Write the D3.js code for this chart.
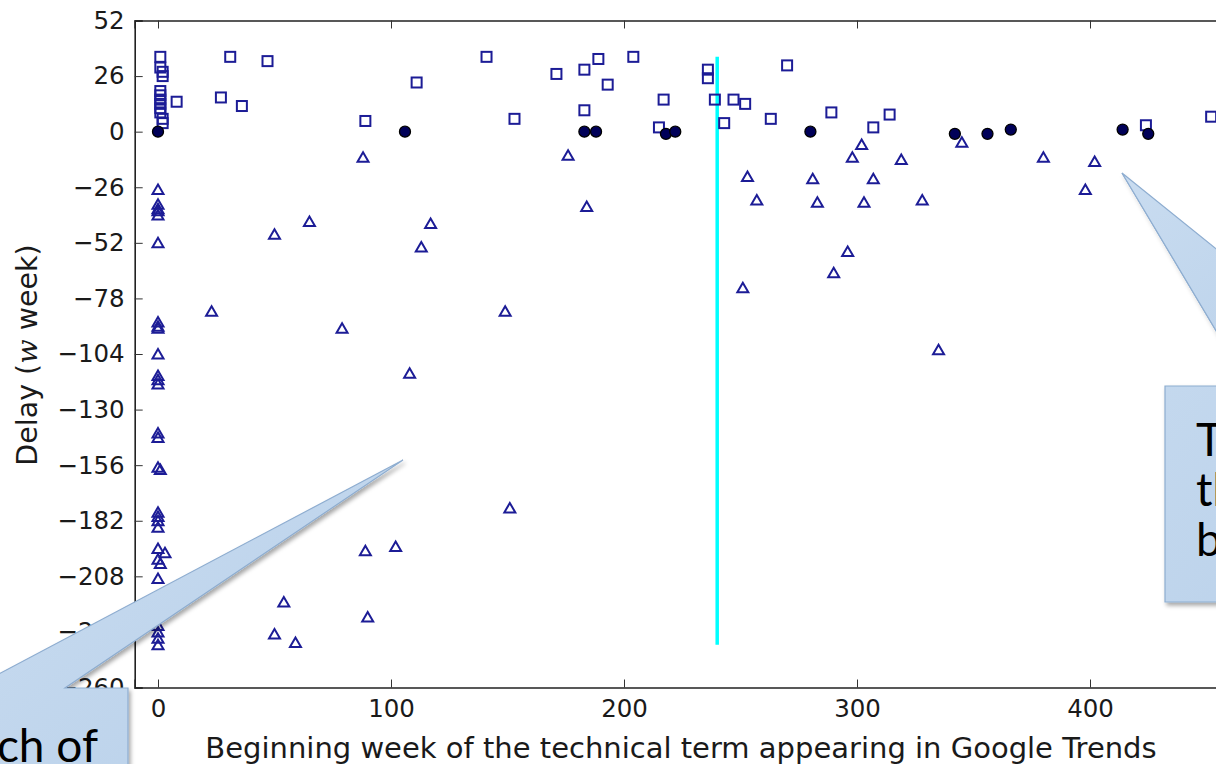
<!DOCTYPE html>
<html>
<meta charset="utf-8">
<head>
<title>Delay vs beginning week</title>
<style>
body { margin: 0; background: #fff; }
svg { display: block; }
.tick text { font-family: "DejaVu Sans", sans-serif; fill: #1a1a1a; }
.callout text { font-family: Lato, "Open Sans", sans-serif; fill: #000; }
</style>
</head>
<body>
<script src="https://d3js.org/d3.v7.min.js"></script>
<script>

// points: (beginning week, delay in weeks)
var squareX = [1, 1, 2, 2, 1, 1, 1, 1, 1, 1, 2, 2,
  8, 27, 31, 36, 47, 89, 111, 141, 153, 171, 183, 183, 189, 193, 204, 217, 215,
  236, 236, 239, 243, 247, 252, 263, 270, 289, 307, 314, 424, 452];
var squareY = [35, 30, 28, 26, 19, 17, 15, 13, 11, 9, 6, 4,
  14, 16, 35, 12, 33, 5, 23, 35, 6, 27, 29, 10, 34, 22, 35, 15, 2,
  29, 25, 15, 4, 15, 13, 6, 31, 9, 2, 8, 3, 7];

var circleX = [0, 106, 183, 188, 218, 222, 280, 342, 356, 366, 414, 425];
var circleY = [0, 0, 0, 0, -1, 0, 0, -1, -1, 1, 1, -1];

var triangleX = [0, 0, 0, 0, 0, 0, 0, 0, 0, 0, 0, 0, 0, 0, 0, 0, 1, 0, 0, 0,
  0, 0, 3, 0, 1, 0, 0, 0, 0, 0,
  88, 50, 65, 113, 117, 176, 184, 253, 257, 281, 283, 298, 302, 307, 303, 319,
  328, 296, 345, 380, 402, 398, 251, 290, 335, 149, 79, 23, 108, 151, 89, 102,
  54, 50, 59, 90];
var triangleY = [-27, -34, -36, -37, -39, -52, -89, -91, -92, -104, -114, -116,
  -118, -141, -143, -157, -158, -178, -180, -182, -185, -195, -197, -200, -202,
  -209, -231, -234, -237, -240,
  -12, -48, -42, -54, -43, -11, -35, -21, -32, -22, -33, -12, -6, -22, -33, -13,
  -32, -56, -5, -12, -14, -27, -73, -66, -102, -84, -92, -84, -113, -176, -196,
  -194, -220, -235, -239, -227];

var cutX = 240;
var cutY = [-240, 35];

var yTicks = [52, 26, 0, -26, -52, -78, -104, -130, -156, -182, -208, -234, -260];
var xTicks = [0, 100, 200, 300, 400];

var xLabel = "Beginning week of the technical term appearing in Google Trends";

var width = 1216, height = 764;

var x = d3.scaleLinear().domain([-10, 500]).range([134.7, 1323]);
var y = d3.scaleLinear().domain([-260, 52]).range([687.5, 20.5]);

var svg = d3.select("body").append("svg")
  .attr("width", width)
  .attr("height", height);

var defs = svg.append("defs");
var grad = defs.append("linearGradient").attr("id", "calloutFill")
  .attr("x1", "0").attr("y1", "0").attr("x2", "1").attr("y2", "1");
grad.append("stop").attr("offset", "0").attr("stop-color", "#c9dcf0");
grad.append("stop").attr("offset", "1").attr("stop-color", "#b7cfe9");
var shadow = defs.append("filter").attr("id", "shadow")
  .attr("x", "-20%").attr("y", "-20%").attr("width", "140%").attr("height", "140%");
shadow.append("feDropShadow").attr("dx", 2).attr("dy", 3).attr("stdDeviation", 2)
  .attr("flood-color", "#000").attr("flood-opacity", 0.35);

// axes, ticks point inwards like matplotlib
svg.append("g")
  .attr("transform", "translate(" + x(-10) + ",0)")
  .call(d3.axisLeft(y).tickValues(yTicks).tickSize(-8).tickPadding(10)
    .tickFormat(function(d) { return d3.format("")(d).replace("-", "\u2212"); }))
  .call(function(g) {
    g.select(".domain").attr("stroke", "#222").attr("stroke-width", 1.6);
    g.selectAll(".tick line").attr("stroke", "#333");
    g.selectAll(".tick text").style("font-size", "24.5px");
  });

svg.append("g")
  .attr("transform", "translate(0," + y(-260) + ")")
  .call(d3.axisBottom(x).tickValues(xTicks).tickSize(-8).tickPadding(12))
  .call(function(g) {
    g.select(".domain").attr("stroke", "#222").attr("stroke-width", 1.6);
    g.selectAll(".tick line").attr("stroke", "#333");
    g.selectAll(".tick text").style("font-size", "24.5px");
  });

svg.append("g")
  .attr("transform", "translate(0," + y(52) + ")")
  .call(d3.axisTop(x).tickValues(xTicks).tickSize(-8).tickFormat(""))
  .call(function(g) {
    g.select(".domain").attr("stroke", "#222").attr("stroke-width", 1.6);
    g.selectAll(".tick line").attr("stroke", "#333");
  });

svg.append("text")
  .attr("x", 681)
  .attr("y", 758)
  .attr("text-anchor", "middle")
  .style("font-family", "DejaVu Sans, sans-serif")
  .style("font-size", "29px")
  .style("fill", "#1a1a1a")
  .text(xLabel);

var yl = svg.append("text")
  .attr("transform", "translate(37,355) rotate(-90)")
  .attr("text-anchor", "middle")
  .style("font-family", "DejaVu Sans, sans-serif")
  .style("font-size", "28.5px")
  .style("fill", "#1a1a1a");
yl.append("tspan").text("Delay (");
yl.append("tspan").style("font-family", "DejaVu Serif, serif").style("font-style", "italic").text("w");
yl.append("tspan").text(" week)");

// cyan cut line
svg.append("line")
  .attr("x1", x(cutX)).attr("x2", x(cutX))
  .attr("y1", y(cutY[0])).attr("y2", y(cutY[1]))
  .attr("stroke", "#00ffff")
  .attr("stroke-width", 3.5);

var marks = svg.append("g");

marks.selectAll("rect.sq")
  .data(d3.range(squareX.length))
  .enter().append("rect")
  .attr("class", "sq")
  .attr("x", function(i) { return x(squareX[i]) - 5; })
  .attr("y", function(i) { return y(squareY[i]) - 5; })
  .attr("width", 10)
  .attr("height", 10)
  .attr("fill", "none")
  .attr("stroke", "#1c1c96")
  .attr("stroke-width", 2);

marks.selectAll("path.tri")
  .data(d3.range(triangleX.length))
  .enter().append("path")
  .attr("class", "tri")
  .attr("d", function(i) {
    var cx = x(triangleX[i]), cy = y(triangleY[i]);
    return "M" + cx + "," + (cy - 5) + "L" + (cx + 5.5) + "," + (cy + 4.5) +
      "L" + (cx - 5.5) + "," + (cy + 4.5) + "Z";
  })
  .attr("fill", "none")
  .attr("stroke", "#1c1c96")
  .attr("stroke-width", 2);

marks.selectAll("circle")
  .data(d3.range(circleX.length))
  .enter().append("circle")
  .attr("cx", function(i) { return x(circleX[i]); })
  .attr("cy", function(i) { return y(circleY[i]); })
  .attr("r", 5.5)
  .attr("fill", "#000058")
  .attr("stroke", "#000")
  .attr("stroke-width", 1.3);

// slide callouts laid over the chart
var c1 = svg.append("g").attr("class", "callout");
c1.append("path")
  .attr("d", "M-5,676L403,460L65,688L128,688L128,790L-5,790Z")
  .attr("fill", "url(#calloutFill)")
  .attr("stroke", "#8eadd0")
  .attr("stroke-width", 1.2)
  .attr("filter", "url(#shadow)");
c1.append("text")
  .attr("x", 98).attr("y", 762)
  .attr("text-anchor", "end")
  .style("font-size", "46px")
  .text("ch of");

var c2 = svg.append("g").attr("class", "callout");
c2.append("path")
  .attr("d", "M1122,173L1249,386L1500,386L1500,602L1165,602L1165,386L1249,386")
  .attr("fill", "url(#calloutFill)")
  .attr("stroke", "#8eadd0")
  .attr("stroke-width", 1.2)
  .attr("filter", "url(#shadow)");
c2.append("path")
  .attr("d", "M1122,173L1386,386L1249,386Z")
  .attr("fill", "url(#calloutFill)")
  .attr("stroke", "#8eadd0")
  .attr("stroke-width", 1.2);
var lines = ["T", "th", "b"];
c2.selectAll("text.l")
  .data(lines)
  .enter().append("text")
  .attr("class", "l")
  .attr("x", 1196)
  .attr("y", function(d, i) { return 456 + i * 50; })
  .style("font-size", "46px")
  .text(function(d) { return d; });

</script>
</body>
</html>
